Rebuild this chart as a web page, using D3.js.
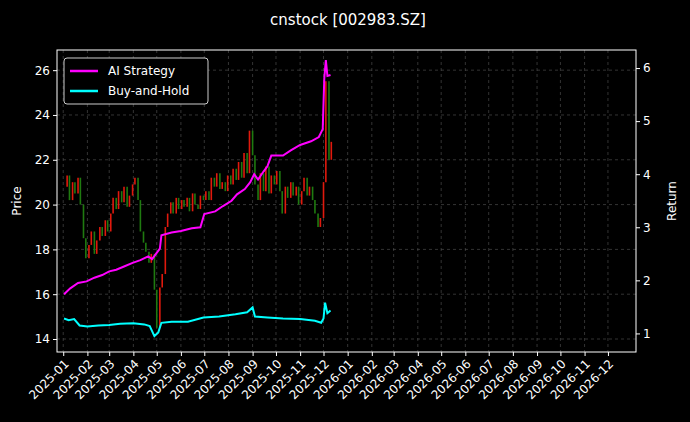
<!DOCTYPE html>
<html><head><meta charset="utf-8">
<script src="https://cdn.jsdelivr.net/npm/d3@7"></script>
<style>body{margin:0;background:#000}text{font-family:"DejaVu Sans",sans-serif}</style>
</head><body><svg id="c" width="690" height="422"></svg>
<script>
const closes = [20.8,21.3,20.2,21.0,20.5,21.2,20.0,18.5,17.6,
  18.2,18.8,17.8,18.4,19.0,18.6,19.3,18.8,
  19.6,20.3,19.8,20.6,20.1,20.8,19.9,20.4,20.9,
  21.2,20.2,18.8,18.3,17.9,17.4,17.8,16.2,14.5,
  16.3,16.9,19.0,19.6,20.1,19.6,20.3,19.8,20.2,
  19.9,20.3,19.7,20.5,20.0,19.8,20.4,20.2,
  20.6,20.2,21.2,20.8,21.4,20.7,21.0,20.6,21.3,
  20.9,21.6,21.1,21.9,21.2,22.3,21.4,23.3,22.2,
  20.9,20.2,21.4,20.6,21.7,20.5,21.3,20.9,
  21.5,20.6,19.6,20.8,20.3,21.0,20.4,20.8,20.0,
  20.6,21.2,20.4,20.8,20.2,19.6,19.0,19.4,21.0,
  25.5,22.0,22.8];
const stratDates = ["01-02","01-10","01-20","01-31","02-10","02-20","03-01","03-10","03-20","03-31","04-10","04-20","04-25","04-30","05-05","05-07","05-20","06-01","06-15","06-26","07-01","07-15","07-25","08-05","08-12","08-22","08-29","09-03","09-08","09-15","09-20","09-25","10-10","10-20","11-01","11-15","11-25","11-30","12-02","12-04","12-06","12-10"];
const stratValues = [1.74,1.85,1.95,1.98,2.05,2.10,2.17,2.20,2.26,2.33,2.38,2.45,2.40,2.50,2.60,2.85,2.90,2.93,2.98,3.00,3.25,3.30,3.40,3.50,3.62,3.72,3.85,4.00,3.90,4.05,4.15,4.35,4.35,4.45,4.55,4.62,4.70,4.85,5.80,6.15,5.85,5.87];
const holdDates = ["01-02","01-08","01-15","01-22","02-01","02-15","03-01","03-15","04-01","04-15","04-22","04-28","05-03","05-07","05-20","06-10","06-30","07-20","08-10","08-25","09-01","09-04","09-20","10-10","11-01","11-20","11-28","12-01","12-03","12-06","12-10"];
const holdValues = [1.28,1.25,1.27,1.15,1.13,1.15,1.16,1.18,1.19,1.17,1.14,0.95,1.02,1.20,1.22,1.22,1.30,1.32,1.36,1.40,1.49,1.32,1.30,1.28,1.27,1.24,1.20,1.28,1.58,1.38,1.43];
const priceTicks = [14,16,18,20,22,24,26];
const returnTicks = [1,2,3,4,5,6];

const svg = d3.select("#c");
const L = 57, R = 636, T = 50, B = 352;
const pd = s => d3.timeParse("%Y-%m-%d")("2025-" + s);
const x = d3.scaleTime().domain([new Date(2024,11,24), new Date(2027,0,6)]).range([L, R]);
const y = d3.scaleLinear().domain([13.42, 26.9]).range([B, T]);
const y2 = d3.scaleLinear().domain([0.65, 6.34]).range([B, T]);
const months = d3.timeMonth.range(new Date(2025,0,1), new Date(2027,0,1));
const days = closes.map((_, i) => new Date(2025, 0, 2 + Math.round(i * 3.5)));

const g = svg.append("g");
g.selectAll(".vg").data(months).join("line").attr("x1", d => x(d)).attr("x2", d => x(d))
  .attr("y1", T).attr("y2", B).attr("stroke", "#555").attr("stroke-dasharray", "3,3").attr("stroke-width", 0.6);
g.selectAll(".hg").data(priceTicks).join("line").attr("x1", L).attr("x2", R)
  .attr("y1", d => y(d)).attr("y2", d => y(d)).attr("stroke", "#555").attr("stroke-dasharray", "3,3").attr("stroke-width", 0.6);

// candles
const candles = closes.map((c, i) => ({d: days[i], o: i ? closes[i-1] : c, c}));
g.selectAll(".wick").data(candles).join("line")
  .attr("x1", d => x(d.d)).attr("x2", d => x(d.d))
  .attr("y1", d => y(Math.max(d.o, d.c))).attr("y2", d => y(Math.min(d.o, d.c)))
  .attr("stroke", d => d.c >= d.o ? "#e0190d" : "#1f7a10").attr("stroke-width", 1.6);

const line = (dates, vals) => d3.line().x((d, i) => x(pd(dates[i]))).y(d => y2(d))(vals);
g.append("path").attr("d", line(stratDates, stratValues)).attr("fill", "none").attr("stroke", "#ff00ff").attr("stroke-width", 2);
g.append("path").attr("d", line(holdDates, holdValues)).attr("fill", "none").attr("stroke", "#00ffff").attr("stroke-width", 2);

svg.append("rect").attr("x", L).attr("y", T).attr("width", R - L).attr("height", B - T).attr("fill", "none").attr("stroke", "#fff");

const xa = svg.append("g").attr("transform", `translate(0,${B})`)
  .call(d3.axisBottom(x).tickValues(months).tickFormat(d3.timeFormat("%Y-%m")).tickSize(4));
xa.selectAll("text").attr("transform", "rotate(-45)").attr("text-anchor", "end").attr("dx", "-0.4em").attr("dy", "0.5em");
svg.append("g").attr("transform", `translate(${L},0)`).call(d3.axisLeft(y).tickValues(priceTicks).tickSize(4));
svg.append("g").attr("transform", `translate(${R},0)`).call(d3.axisRight(y2).tickValues(returnTicks).tickFormat(d3.format("d")).tickSize(4));
svg.selectAll(".domain").remove();
svg.selectAll(".tick line").attr("stroke", "#fff");
svg.selectAll(".tick text").attr("fill", "#fff").style("font-size", "12px");

svg.append("text").attr("x", 348).attr("y", 25).attr("text-anchor", "middle").attr("fill", "#fff").style("font-size", "15px").text("cnstock [002983.SZ]");
svg.append("text").attr("transform", "translate(21,201) rotate(-90)").attr("text-anchor", "middle").attr("fill", "#fff").style("font-size", "12px").text("Price");
svg.append("text").attr("transform", "translate(676,201) rotate(-90)").attr("text-anchor", "middle").attr("fill", "#fff").style("font-size", "12px").text("Return");

const lg = svg.append("g").attr("transform", "translate(64,58)");
lg.append("rect").attr("width", 144).attr("height", 46).attr("rx", 3).attr("fill", "#000").attr("stroke", "#ccc");
[["AI Strategy", "#ff00ff"], ["Buy-and-Hold", "#00ffff"]].forEach(([t, c], i) => {
  lg.append("line").attr("x1", 6).attr("x2", 34).attr("y1", 13 + i * 20).attr("y2", 13 + i * 20).attr("stroke", c).attr("stroke-width", 2.5);
  lg.append("text").attr("x", 44).attr("y", 17 + i * 20).attr("fill", "#fff").style("font-size", "12px").text(t);
});
</script></body></html>
